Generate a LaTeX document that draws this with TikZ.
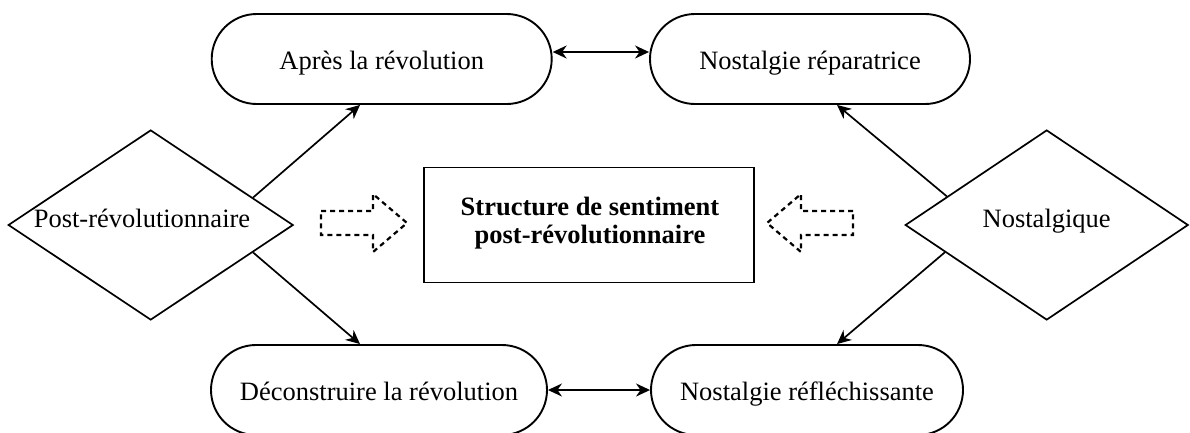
\documentclass[tikz,border=0pt]{standalone}
\usepackage{fontspec}
\setmainfont{Liberation Serif}
\usetikzlibrary{shapes.geometric,arrows.meta}
\begin{document}
\begin{tikzpicture}[x=1pt,y=-1pt,
  txt/.style={font=\fontsize{26.5}{28.3}\selectfont, inner sep=0pt},
  pill/.style={draw, line width=1.9pt, rounded corners=45pt, minimum height=90pt,
    inner sep=0pt, font=\fontsize{26.5}{28.3}\selectfont, text height=26pt, text depth=6pt},
  diam/.style={draw, diamond, line width=1.7pt, minimum width=285pt, minimum height=190pt, inner sep=0pt},
  centerbox/.style={draw, line width=1.9pt, minimum width=330pt, minimum height=115pt, inner sep=0pt},
  conn/.style={line width=1.7pt, -{Stealth[length=14pt,width=13pt,inset=4.5pt]}},
  dconn/.style={line width=1.7pt, {Stealth[length=14pt,width=13pt,inset=4.5pt]}-{Stealth[length=14pt,width=13pt,inset=4.5pt]}},
  blockarrow/.style={line width=2.2pt, dash pattern=on 5pt off 4pt, line join=miter}
]
\useasboundingbox (0,0) rectangle (1190,432);

% pills
\node[pill, minimum width=340pt] (apres) at (381.7,59) {Après la révolution};
\node[pill, minimum width=320pt] (nr) at (810,59) {Nostalgie réparatrice};
\node[pill, minimum width=336pt] (dec) at (379,390) {Déconstruire la révolution};
\node[pill, minimum width=312pt] (refl) at (807,390) {Nostalgie réfléchissante};

% diamonds
\node[diam] (pr) at (150.7,225) {};
\node[txt, anchor=base] (prtext) at (142,227) {Post-révolutionnaire};
\node[diam, minimum width=283pt] (nost) at (1046.7,225) {};
\node[txt, anchor=base] (nosttext) at (1046.7,227) {Nostalgique};

% center box
\node[centerbox] (sps) at (589,225) {};
\node[txt, align=center, font=\fontsize{26.5}{28.3}\selectfont\bfseries] (spstext) at (590,223)
  {Structure de sentiment\\post-révolutionnaire};

% connectors
\draw[conn] (pr.15.3) -- ([xshift=-21.7pt]apres.south);
\draw[conn] (pr.-15.3) -- ([xshift=-19pt]dec.north);
\draw[conn] (nost.164.8) -- ([xshift=27pt]nr.south);
\draw[conn] (nost.195.2) -- ([xshift=30pt]refl.north);
\draw[dconn] ([yshift=7pt]apres.east) -- ([yshift=7pt]nr.west);
\draw[dconn] (dec.east) -- (refl.west);

% dashed block arrows
\draw[blockarrow] (321,211) -- (373,211) -- (373,194) -- (407,223) -- (373,252) -- (373,235) -- (321,235) -- cycle;
\draw[blockarrow] (853,211) -- (801,211) -- (801,194) -- (767,223) -- (801,252) -- (801,235) -- (853,235) -- cycle;
\end{tikzpicture}
\end{document}
